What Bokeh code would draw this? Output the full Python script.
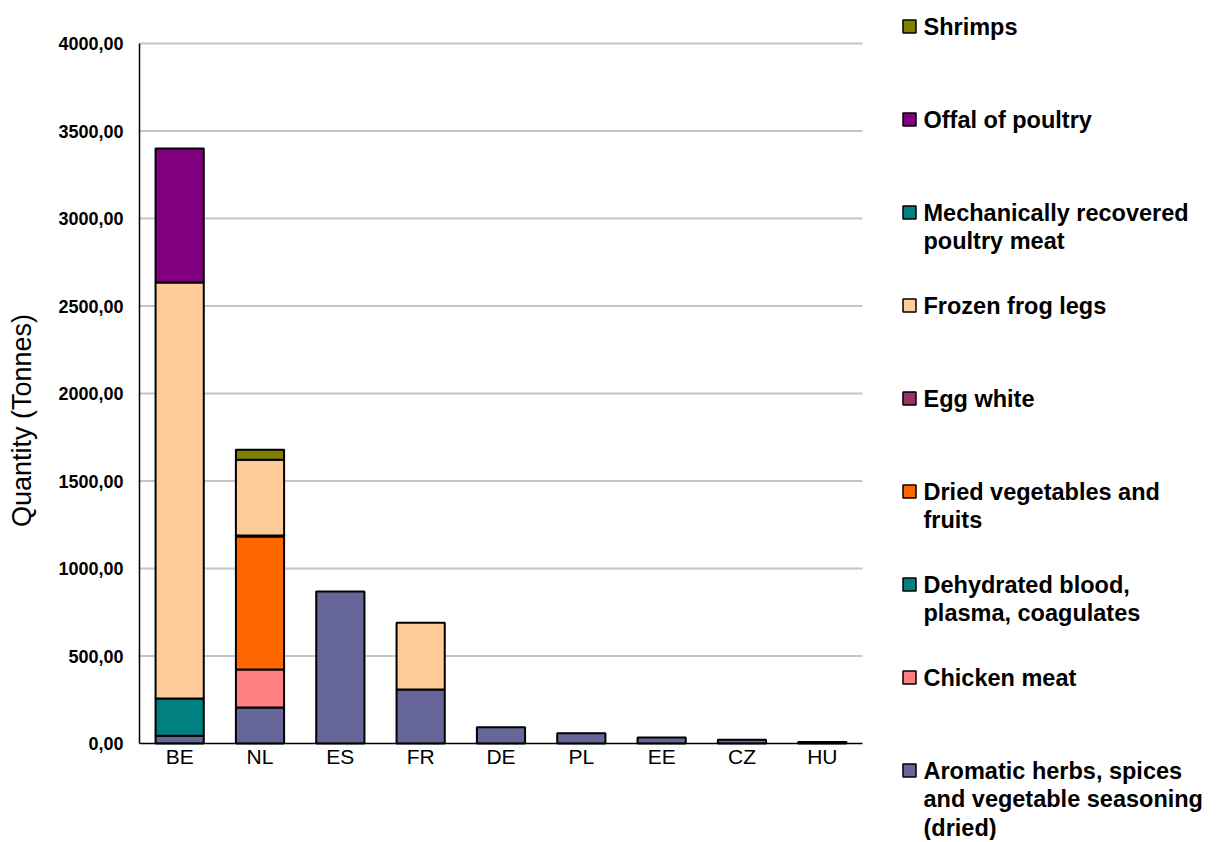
import numpy as np
from bokeh.plotting import figure
from bokeh.models import ColumnDataSource, Range1d, FixedTicker, CustomJSTickFormatter
from bokeh.embed import file_html
from bokeh.resources import INLINE
from bokeh.core.properties import value

# ---------------- data ----------------
countries = ["BE", "NL", "ES", "FR", "DE", "PL", "EE", "CZ", "HU"]

aromatic   = [45, 206, 869, 309, 93, 58, 34, 22, 8]
chicken    = [0, 217, 0, 0, 0, 0, 0, 0, 0]
dehydrated = [212, 0, 0, 0, 0, 0, 0, 0, 0]
dried_veg  = [0, 760, 0, 0, 0, 0, 0, 0, 0]
egg_white  = [0, 5, 0, 0, 0, 0, 0, 0, 0]
frog_legs  = [2377, 434, 0, 381, 0, 0, 0, 0, 0]
mech_poultry = [0, 0, 0, 0, 0, 0, 0, 0, 0]
offal      = [766, 0, 0, 0, 0, 0, 0, 0, 0]
shrimps    = [0, 57, 0, 0, 0, 0, 0, 0, 0]

# stacking order: bottom -> top
series_values = [aromatic, chicken, dehydrated, dried_veg, egg_white,
                 frog_legs, mech_poultry, offal, shrimps]
series_labels = [
    "Aromatic herbs, spices\nand vegetable seasoning\n(dried)",
    "Chicken meat",
    "Dehydrated blood,\nplasma, coagulates",
    "Dried vegetables and\nfruits",
    "Egg white",
    "Frozen frog legs",
    "Mechanically recovered\npoultry meat",
    "Offal of poultry",
    "Shrimps",
]
series_colors = ["#666699", "#FF8080", "#008080", "#FF6600", "#993366",
                 "#FFCC99", "#008080", "#800080", "#808000"]

y_ticks = [0, 500, 1000, 1500, 2000, 2500, 3000, 3500, 4000]
y_title = "Quantity (Tonnes)"

FONT = "Liberation Sans"

# ---------------- layout (pixels) ----------------
W, H = 1215, 840
FL = 135                     # frame left edge (canvas px)
AX_X = 139                   # y-axis line position
Y_TOP, Y_BOT = 43, 743       # pixel rows of 4000 and 0
CAT_W = 80.33                # pixels per category
ppu = (Y_BOT - Y_TOP) / 4000.0

def val_at(py):              # data value shown at canvas row py
    return (Y_BOT - py) / ppu

x_start = -0.5 - (AX_X - FL) / CAT_W
x_end = x_start + (W - FL) / CAT_W
xpos = list(range(len(countries)))

p = figure(
    x_range=Range1d(x_start, x_end),
    y_range=Range1d(val_at(H), val_at(0)),
    width=W, height=H,
    min_border_left=FL, min_border_right=0, min_border_top=0, min_border_bottom=0,
    output_backend="svg", toolbar_location=None,
)
p.extra_x_ranges = {"px": Range1d(FL, W)}
p.extra_y_ranges = {"px": Range1d(H, 0)}
p.outline_line_color = None
p.background_fill_color = "white"
p.xgrid.visible = False
p.ygrid.visible = False
p.xaxis.visible = False

# y axis: tick labels + title; the axis line is drawn below
p.yaxis.ticker = FixedTicker(ticks=y_ticks)
p.yaxis.formatter = CustomJSTickFormatter(code="return tick.toFixed(2).replace('.', ',');")
p.yaxis.major_label_text_font = FONT
p.yaxis.major_label_text_font_size = "18px"
p.yaxis.major_label_text_font_style = "bold"
p.yaxis.major_label_text_color = "black"
p.yaxis.major_label_standoff = 12
p.yaxis.major_tick_out = 0
p.yaxis.major_tick_in = 0
p.yaxis.minor_tick_line_color = None
p.yaxis.axis_line_color = None
p.yaxis.axis_label = y_title
p.yaxis.axis_label_text_font = FONT
p.yaxis.axis_label_text_font_size = "27px"
p.yaxis.axis_label_text_font_style = "normal"
p.yaxis.axis_label_text_color = "black"
p.yaxis.axis_label_standoff = 18

# horizontal gridlines over the category span
grid_y = y_ticks[1:]
p.segment(x0=[-0.5] * len(grid_y), x1=[len(countries) - 0.5] * len(grid_y),
          y0=grid_y, y1=grid_y, line_color="#C4C4C4", line_width=2)

# stacked bars
vals = np.array(series_values, dtype=float)
tops = np.cumsum(vals, axis=0)
bottoms = tops - vals
for i in range(len(series_values)):
    mask = vals[i] > 0
    if not mask.any():
        continue
    src = ColumnDataSource(dict(
        x=[x for x, m in zip(xpos, mask) if m],
        bottom=bottoms[i][mask],
        top=tops[i][mask],
    ))
    p.vbar(x="x", bottom="bottom", top="top", width=0.6, source=src,
           fill_color=series_colors[i], line_color="black", line_width=2)

# axis lines
p.segment(x0=[-0.5, -0.5], x1=[len(countries) - 0.5, -0.5],
          y0=[0, 0], y1=[0, 4000], line_color="black", line_width=1.5)

# category labels
p.text(x=xpos, y=[val_at(Y_BOT + 13)] * len(countries), text=countries,
       text_font=value(FONT), text_font_size="21px", text_color="black",
       text_align="center", text_baseline="middle")

# ---------------- legend ----------------
first_y, spacing, line_h = 26.0, 93.0, 28.5
sq_x, txt_x, sq = 909.0, 923.0, 13
order = list(range(len(series_labels)))[::-1]  # top entry = top of stack
sq_y, sq_c, tx_y, tx_t = [], [], [], []
for k, i in enumerate(order):
    y0 = first_y + k * spacing
    sq_y.append(y0)
    sq_c.append(series_colors[i])
    for j, line in enumerate(series_labels[i].split("\n")):
        tx_y.append(y0 + j * line_h)
        tx_t.append(line)

p.rect(x=sq_x, y="y", width=sq, height=sq, width_units="screen", height_units="screen",
       fill_color="c", line_color="black", line_width=1.5,
       x_range_name="px", y_range_name="px",
       source=ColumnDataSource(dict(y=sq_y, c=sq_c)))
p.text(x=txt_x, y="y", text="t", source=ColumnDataSource(dict(y=tx_y, t=tx_t)),
       x_range_name="px", y_range_name="px",
       text_font=value(FONT), text_font_size="23.5px", text_font_style="bold",
       text_baseline="middle", text_align="left", text_color="black")

open("out.html", "w").write(file_html(p, INLINE))
